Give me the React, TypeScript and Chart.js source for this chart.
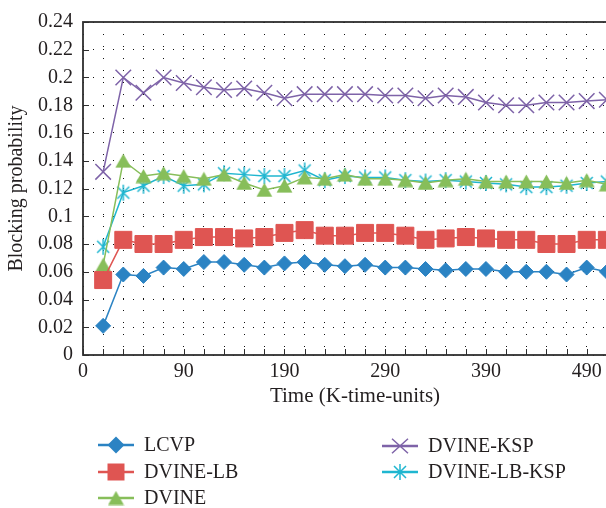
import React, { useEffect, useRef } from 'react';
import { Chart, registerables } from 'chart.js';

Chart.register(...registerables);

// Simulation time (K-time-units) at which each sample was taken
const TIME = [10, 30, 50, 70, 90, 110, 130, 150, 170, 190, 210, 230, 250, 270, 290, 310, 330, 350, 370, 390, 410, 430, 450, 470, 490, 510];

// Labelled positions on the time axis and the text shown there
const X_LABEL_AT = [-10, 90, 190, 290, 390, 490];
const X_LABELS = ['0', '90', '190', '290', '390', '490'];
const X_MIN = -10;
const X_MAX = 530;
const X_STEP = 20;

const Y_MIN = 0;
const Y_MAX = 0.24;
const Y_STEP = 0.02;

// Blocking probability per algorithm
const LCVP = [0.021, 0.058, 0.057, 0.063, 0.062, 0.067, 0.067, 0.065, 0.063, 0.066, 0.067, 0.065, 0.064, 0.065, 0.063, 0.063, 0.062, 0.061, 0.062, 0.062, 0.060, 0.060, 0.060, 0.058, 0.063, 0.060];
const DVINE_LB = [0.054, 0.083, 0.080, 0.080, 0.083, 0.085, 0.085, 0.084, 0.085, 0.088, 0.090, 0.086, 0.086, 0.088, 0.088, 0.086, 0.083, 0.084, 0.085, 0.084, 0.083, 0.083, 0.080, 0.080, 0.083, 0.083];
const DVINE = [0.065, 0.140, 0.129, 0.131, 0.129, 0.127, 0.130, 0.124, 0.119, 0.122, 0.128, 0.127, 0.130, 0.127, 0.127, 0.126, 0.124, 0.126, 0.127, 0.125, 0.125, 0.125, 0.125, 0.124, 0.126, 0.123];
const DVINE_KSP = [0.132, 0.200, 0.189, 0.200, 0.196, 0.193, 0.191, 0.192, 0.189, 0.185, 0.188, 0.188, 0.188, 0.188, 0.187, 0.187, 0.185, 0.187, 0.186, 0.182, 0.180, 0.180, 0.182, 0.182, 0.183, 0.184];
const DVINE_LB_KSP = [0.078, 0.117, 0.122, 0.129, 0.122, 0.123, 0.131, 0.130, 0.129, 0.129, 0.133, 0.126, 0.129, 0.128, 0.128, 0.126, 0.125, 0.126, 0.125, 0.124, 0.123, 0.121, 0.121, 0.122, 0.124, 0.125];

const SERIES_NAMES = ['LCVP', 'DVINE-LB', 'DVINE', 'DVINE-KSP', 'DVINE-LB-KSP'];
const SERIES_VALUES = [LCVP, DVINE_LB, DVINE, DVINE_KSP, DVINE_LB_KSP];
const SERIES_COLORS = ['#2b83c3', '#df5552', '#87be5a', '#7e63a8', '#1fb6d0'];
const SERIES_MARKERS = ['diamond', 'square', 'triangle', 'cross', 'asterisk'];

const TEXT_COLOR = '#231f20';
const AXIS_COLOR = '#2e2e2e';
const GRID_COLOR = '#111111';
const FONT_FAMILY = "'Liberation Serif', 'Times New Roman', serif";

const CANVAS_W = 640;
const CANVAS_H = 508;

// legend slots: column centre of the swatch and row centre
const LEGEND_SLOTS = [
  [116, 445],
  [116, 472],
  [116, 498],
  [400, 446],
  [400, 472],
];

function makeTriangle(color: string): HTMLCanvasElement {
  const c = document.createElement('canvas');
  c.width = 17;
  c.height = 15;
  const g = c.getContext('2d')!;
  g.fillStyle = color;
  g.beginPath();
  g.moveTo(8.5, 0.5);
  g.lineTo(16.5, 14.5);
  g.lineTo(0.5, 14.5);
  g.closePath();
  g.fill();
  return c;
}

function makeAsterisk(color: string): HTMLCanvasElement {
  const c = document.createElement('canvas');
  c.width = 18;
  c.height = 18;
  const g = c.getContext('2d')!;
  g.strokeStyle = color;
  g.lineWidth = 1.5;
  g.beginPath();
  g.moveTo(9, 1);
  g.lineTo(9, 17);
  g.moveTo(3, 3);
  g.lineTo(15, 15);
  g.moveTo(15, 3);
  g.lineTo(3, 15);
  g.stroke();
  return c;
}

function drawLegendMarker(ctx: CanvasRenderingContext2D, kind: string, x: number, y: number, color: string, images: Record<string, HTMLCanvasElement>) {
  ctx.save();
  ctx.fillStyle = color;
  ctx.strokeStyle = color;
  ctx.lineWidth = 1.5;
  ctx.beginPath();
  if (kind === 'diamond') {
    const r = 8.5;
    ctx.moveTo(x, y - r);
    ctx.lineTo(x + r, y);
    ctx.lineTo(x, y + r);
    ctx.lineTo(x - r, y);
    ctx.closePath();
    ctx.fill();
  } else if (kind === 'square') {
    const h = 8.5;
    ctx.rect(x - h, y - h, 2 * h, 2 * h);
    ctx.fill();
  } else if (kind === 'cross') {
    const h = 8;
    ctx.moveTo(x - h, y - h * 0.9);
    ctx.lineTo(x + h, y + h * 0.9);
    ctx.moveTo(x + h, y - h * 0.9);
    ctx.lineTo(x - h, y + h * 0.9);
    ctx.stroke();
  } else {
    const img = images[kind];
    ctx.drawImage(img, x - img.width / 2, y - img.height / 2);
  }
  ctx.restore();
}

export default function App() {
  const canvasRef = useRef<HTMLCanvasElement | null>(null);

  useEffect(() => {
    const canvas = canvasRef.current;
    if (!canvas) return;

    const images: Record<string, HTMLCanvasElement> = {
      triangle: makeTriangle(SERIES_COLORS[2]),
      asterisk: makeAsterisk(SERIES_COLORS[4]),
    };

    const pointStyleFor = (kind: string): any => {
      if (kind === 'diamond') return { pointStyle: 'rectRot', pointRadius: 7.5 };
      if (kind === 'square') return { pointStyle: 'rect', pointRadius: 12 };
      if (kind === 'cross') return { pointStyle: 'crossRot', pointRadius: 11, pointBorderWidth: 1.5 };
      return { pointStyle: images[kind], pointRadius: 8 };
    };

    const datasets = SERIES_NAMES.map((name, i) => ({
      label: name,
      data: TIME.map((t, j) => ({ x: t, y: SERIES_VALUES[i][j] })),
      borderColor: SERIES_COLORS[i],
      backgroundColor: SERIES_COLORS[i],
      pointBackgroundColor: SERIES_COLORS[i],
      pointBorderColor: SERIES_COLORS[i],
      pointBorderWidth: 1,
      borderWidth: 1.5,
      tension: 0,
      ...pointStyleFor(SERIES_MARKERS[i]),
    }));

    const framePlugin = {
      id: 'frameAndTicks',
      afterDraw(chart: any) {
        const { ctx, chartArea } = chart;
        const { left, top, right, bottom } = chartArea;
        const xs = chart.scales.x;
        const ys = chart.scales.y;
        ctx.save();
        ctx.strokeStyle = AXIS_COLOR;
        ctx.lineWidth = 1;
        ctx.beginPath();
        xs.ticks.forEach((t: any) => {
          const px = Math.round(xs.getPixelForValue(t.value)) + 0.5;
          ctx.moveTo(px, bottom);
          ctx.lineTo(px, bottom - 6);
        });
        ys.ticks.forEach((t: any) => {
          const py = Math.round(ys.getPixelForValue(t.value)) + 0.5;
          ctx.moveTo(left, py);
          ctx.lineTo(left + 6, py);
        });
        ctx.stroke();
        ctx.lineWidth = 1.8;
        ctx.strokeRect(left, top, right - left, bottom - top);
        ctx.restore();
      },
    };

    const legendPlugin = {
      id: 'seriesLegend',
      afterDraw(chart: any) {
        const { ctx } = chart;
        ctx.save();
        SERIES_NAMES.forEach((name, i) => {
          const [cx, cy] = LEGEND_SLOTS[i];
          ctx.strokeStyle = SERIES_COLORS[i];
          ctx.lineWidth = 2.6;
          ctx.beginPath();
          ctx.moveTo(cx - 18, cy);
          ctx.lineTo(cx + 18, cy);
          ctx.stroke();
          drawLegendMarker(ctx, SERIES_MARKERS[i], cx, cy, SERIES_COLORS[i], images);
          ctx.fillStyle = TEXT_COLOR;
          ctx.font = `20px ${FONT_FAMILY}`;
          ctx.textAlign = 'left';
          ctx.textBaseline = 'middle';
          ctx.fillText(name, cx + 28, cy + 1);
        });
        ctx.restore();
      },
    };

    const chart = new Chart(canvas, {
      type: 'line',
      data: { datasets },
      options: {
        responsive: false,
        animation: false,
        events: [],
        layout: { padding: { left: 0, top: 16, right: 12, bottom: 98 } },
        plugins: {
          legend: { display: false },
          tooltip: { enabled: false },
        },
        scales: {
          x: {
            type: 'linear',
            min: X_MIN,
            max: X_MAX,
            afterBuildTicks: (scale: any) => {
              const ticks = [];
              for (let v = X_MIN; v <= X_MAX; v += X_STEP) ticks.push({ value: v });
              scale.ticks = ticks;
            },
            afterFit: (scale: any) => {
              scale.height = 55;
            },
            grid: { color: GRID_COLOR, lineWidth: 1, drawTicks: false },
            border: { display: false, dash: [1, 11] },
            ticks: {
              autoSkip: false,
              maxRotation: 0,
              padding: 5,
              color: TEXT_COLOR,
              font: { family: FONT_FAMILY, size: 20 },
              callback: (value: any) => {
                const k = X_LABEL_AT.indexOf(Number(value));
                return k >= 0 ? X_LABELS[k] : '';
              },
            },
            title: {
              display: true,
              text: 'Time (K-time-units)',
              color: TEXT_COLOR,
              font: { family: FONT_FAMILY, size: 21 },
              padding: { top: 0, bottom: 1 },
            },
          },
          y: {
            type: 'linear',
            min: Y_MIN,
            max: Y_MAX,
            afterFit: (scale: any) => {
              scale.width = 83;
            },
            grid: { color: GRID_COLOR, lineWidth: 1, drawTicks: false },
            border: { display: false, dash: [1, 9] },
            ticks: {
              stepSize: Y_STEP,
              padding: 10,
              color: TEXT_COLOR,
              font: { family: FONT_FAMILY, size: 20 },
              callback: (value: any) => String(Number(Number(value).toFixed(2))),
            },
            title: {
              display: true,
              text: 'Blocking probability',
              color: TEXT_COLOR,
              font: { family: FONT_FAMILY, size: 20 },
              padding: { top: 5, bottom: 0 },
            },
          },
        },
      },
      plugins: [framePlugin, legendPlugin],
    } as any);

    return () => chart.destroy();
  }, []);

  return (
    <div style={{ position: 'fixed', left: 0, top: 0, width: 606, height: 508, overflow: 'hidden', background: '#ffffff' }}>
      <canvas ref={canvasRef} width={CANVAS_W} height={CANVAS_H} style={{ display: 'block', width: CANVAS_W, height: CANVAS_H }} />
    </div>
  );
}
